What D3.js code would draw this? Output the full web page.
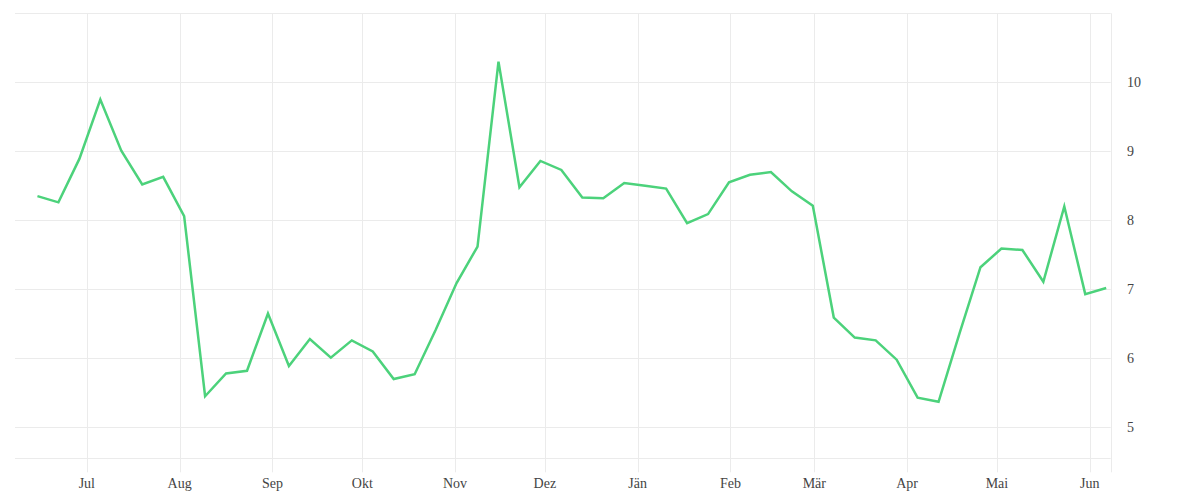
<!DOCTYPE html>
<html>
<head>
<meta charset="utf-8">
<script src="https://cdn.jsdelivr.net/npm/d3@7"></script>
<style>
  html, body { margin: 0; padding: 0; background: #fff; }
  svg { display: block; }
  text { font-family: "Liberation Serif", "DejaVu Serif", serif; fill: #444; }
</style>
</head>
<body>
<svg id="chart" width="1200" height="500"></svg>
<script>
// ---- data ----
const dates = [
  "2018-06-14","2018-06-21","2018-06-28","2018-07-05","2018-07-12","2018-07-19","2018-07-26",
  "2018-08-02","2018-08-09","2018-08-16","2018-08-23","2018-08-30","2018-09-06","2018-09-13",
  "2018-09-20","2018-09-27","2018-10-04","2018-10-11","2018-10-18","2018-10-25","2018-11-01",
  "2018-11-08","2018-11-15","2018-11-22","2018-11-29","2018-12-06","2018-12-13","2018-12-20",
  "2018-12-27","2019-01-03","2019-01-10","2019-01-17","2019-01-24","2019-01-31","2019-02-07",
  "2019-02-14","2019-02-21","2019-02-28","2019-03-07","2019-03-14","2019-03-21","2019-03-28",
  "2019-04-04","2019-04-11","2019-04-18","2019-04-25","2019-05-02","2019-05-09","2019-05-16",
  "2019-05-23","2019-05-30","2019-06-06"
];
const values = [
  8.35, 8.26, 8.89, 9.75, 9.01, 8.52, 8.63,
  8.06, 5.45, 5.78, 5.82, 6.65, 5.89, 6.28,
  6.01, 6.26, 6.10, 5.70, 5.77, 6.41, 7.09,
  7.62, 10.30, 8.48, 8.86, 8.73, 8.33, 8.32,
  8.54, 8.50, 8.46, 7.96, 8.09, 8.55, 8.66,
  8.70, 8.42, 8.21, 6.59, 6.30, 6.26, 5.98,
  5.43, 5.37, 6.36, 7.32, 7.59, 7.57, 7.11,
  8.20, 6.93, 7.02
];
const monthLabels = ["Jul","Aug","Sep","Okt","Nov","Dez","Jän","Feb","Mär","Apr","Mai","Jun"];
const yTicks = [5, 6, 7, 8, 9, 10];

// ---- layout ----
const svg = d3.select("#chart");
const pLeft = 15, pRight = 1110.7, pTop = 13.3, pBottom = 458.3;
const parse = d3.timeParse("%Y-%m-%d");
const pts = dates.map((d, i) => ({ date: d3.timeHour.offset(parse(d), 12), value: values[i] }));

const x = d3.scaleTime()
  .domain([new Date(2018, 5, 7), new Date(2019, 5, 8)])
  .range([pLeft, pRight]);
const y = d3.scaleLinear()
  .domain([4.551, 11])
  .range([pBottom, pTop]);

const gridColor = "#ebebeb";
const monthTicks = d3.timeMonth.range(new Date(2018, 6, 1), new Date(2019, 5, 2));

const g = svg.append("g");
// horizontal gridlines (ticks + borders)
g.selectAll("line.h")
  .data([...yTicks, 11, 4.551])
  .join("line")
  .attr("x1", pLeft).attr("x2", pRight)
  .attr("y1", d => Math.round(y(d)) + 0.5).attr("y2", d => Math.round(y(d)) + 0.5)
  .attr("stroke", gridColor).attr("stroke-width", 1);

// vertical gridlines at month starts, extended below the plot
g.selectAll("line.v")
  .data(monthTicks)
  .join("line")
  .attr("x1", d => Math.round(x(d)) + 0.5).attr("x2", d => Math.round(x(d)) + 0.5)
  .attr("y1", pTop).attr("y2", pBottom + 14)
  .attr("stroke", gridColor).attr("stroke-width", 1);

// right border
g.append("line")
  .attr("x1", Math.round(pRight) + 0.5).attr("x2", Math.round(pRight) + 0.5)
  .attr("y1", pTop).attr("y2", pBottom + 14)
  .attr("stroke", gridColor).attr("stroke-width", 1);

// x labels
svg.append("g").selectAll("text")
  .data(monthTicks)
  .join("text")
  .attr("x", d => x(d))
  .attr("y", 488)
  .attr("text-anchor", "middle")
  .style("font-size", "14px")
  .text((d, i) => monthLabels[i]);

// y labels
svg.append("g").selectAll("text")
  .data(yTicks)
  .join("text")
  .attr("x", 1127)
  .attr("y", d => y(d))
  .attr("dy", "0.35em")
  .attr("text-anchor", "start")
  .style("font-size", "14px")
  .text(d => d);

// line
const line = d3.line().x(d => x(d.date)).y(d => y(d.value));
svg.append("path")
  .datum(pts)
  .attr("d", line)
  .attr("fill", "none")
  .attr("stroke", "#4cd27b")
  .attr("stroke-width", 2.5)
  .attr("stroke-linejoin", "miter");
</script>
</body>
</html>
